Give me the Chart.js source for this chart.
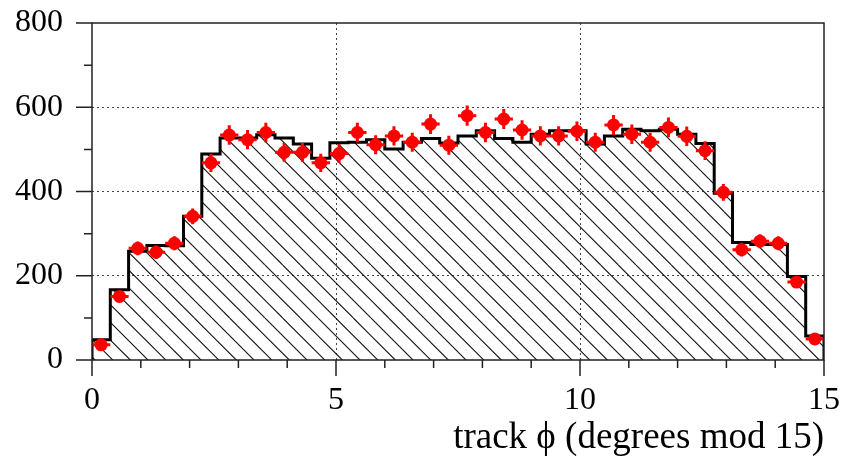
<!DOCTYPE html>
<html>
<head>
<meta charset="utf-8">
<script src="https://cdn.jsdelivr.net/npm/chart.js@4.4.1/dist/chart.umd.min.js"></script>
<style>
  html, body { margin: 0; padding: 0; background: #fff; }
  canvas { display: block; }
</style>
</head>
<body>
<canvas id="phiChart" width="842" height="460"></canvas>
<script>
// 40 bins from 0 to 15 degrees
const binWidth = 15 / 40;

// simulation histogram (hatched)
const mcCounts = [
  48, 167, 258, 272, 271, 341, 489, 527, 527, 535,
  527, 513, 479, 516, 517, 523, 501, 517, 526, 515,
  532, 544, 526, 517, 536, 544, 544, 513, 532, 548,
  544, 548, 536, 514, 396, 279, 274, 274, 198, 57
];

// data points (red)
const dataCounts = [
  36, 151, 265, 256, 277, 341, 468, 534, 523, 540,
  493, 493, 468, 490, 540, 511, 532, 517, 560, 510,
  580, 540, 572, 546, 532, 532, 543, 517, 558, 536,
  517, 552, 531, 497, 398, 262, 282, 277, 185, 50
];

const xMajor = [0, 5, 10, 15];
const xMinorStep = 1;
const yMajor = [0, 200, 400, 600, 800];
const yMinorStep = 100;
const xTitle = 'track ϕ (degrees mod 15)';

const serif = '"Liberation Serif", "DejaVu Serif", serif';

// hatch fill like "\\\\"
function makeHatch() {
  const size = 53, n = 3, step = size / n;
  const c = document.createElement('canvas');
  c.width = size;
  c.height = size;
  const g = c.getContext('2d');
  g.strokeStyle = '#111';
  g.lineWidth = 1.1;
  for (let k = -n; k <= n; k++) {
    const off = k * step;
    g.beginPath();
    g.moveTo(off, 0);
    g.lineTo(off + size, size);
    g.stroke();
  }
  return g.createPattern(c, 'repeat');
}

// step outline points built from the bins
const histPoints = [{ x: 0, y: 0 }];
mcCounts.forEach((v, i) => histPoints.push({ x: i * binWidth, y: v }));
histPoints.push({ x: 15, y: mcCounts[mcCounts.length - 1] });
histPoints.push({ x: 15, y: 0 });

const dataPoints = dataCounts.map((v, i) => ({ x: (i + 0.5) * binWidth, y: v }));

const gridColor = (vals) => (ctx) =>
  (ctx.tick && vals.includes(ctx.tick.value)) ? '#444' : 'rgba(0,0,0,0)';

const errorBars = {
  id: 'errorBars',
  beforeDatasetDraw(chart, args) {
    if (args.index !== 0) return;
    const { ctx, scales: { x, y } } = chart;
    ctx.save();
    ctx.strokeStyle = '#ff0000';
    ctx.lineWidth = 3;
    dataPoints.forEach(p => {
      const err = Math.sqrt(p.y);
      const px = x.getPixelForValue(p.x);
      const py = y.getPixelForValue(p.y);
      ctx.beginPath();
      ctx.moveTo(px, y.getPixelForValue(p.y - err));
      ctx.lineTo(px, y.getPixelForValue(p.y + err));
      ctx.moveTo(x.getPixelForValue(p.x - binWidth / 2), py);
      ctx.lineTo(x.getPixelForValue(p.x + binWidth / 2), py);
      ctx.stroke();
    });
    ctx.restore();
  }
};

const frameTicks = {
  id: 'frameTicks',
  afterDraw(chart) {
    const { ctx, chartArea: a, scales: { x, y } } = chart;
    ctx.save();
    ctx.strokeStyle = '#222';
    ctx.lineWidth = 1.5;
    ctx.strokeRect(a.left, a.top, a.right - a.left, a.bottom - a.top);
    ctx.beginPath();
    for (let v = 0; v <= 15; v += xMinorStep) {
      const px = x.getPixelForValue(v);
      const len = xMajor.includes(v) ? 16 : 8;
      ctx.moveTo(px, a.bottom);
      ctx.lineTo(px, a.bottom + len);
    }
    for (let v = 0; v <= 800; v += yMinorStep) {
      const py = y.getPixelForValue(v);
      const len = yMajor.includes(v) ? 16 : 8;
      ctx.moveTo(a.left, py);
      ctx.lineTo(a.left - len, py);
    }
    ctx.stroke();
    ctx.restore();
  }
};

new Chart(document.getElementById('phiChart'), {
  type: 'scatter',
  data: {
    datasets: [
      {
        label: 'data',
        data: dataPoints,
        pointRadius: 6.5,
        pointBackgroundColor: '#ff0000',
        pointBorderColor: '#ff0000',
        pointBorderWidth: 0,
        showLine: false
      },
      {
        label: 'simulation',
        type: 'line',
        data: histPoints,
        stepped: 'before',
        borderColor: '#000',
        borderWidth: 3,
        pointRadius: 0,
        fill: 'origin',
        backgroundColor: makeHatch()
      }
    ]
  },
  options: {
    responsive: false,
    devicePixelRatio: 1,
    animation: false,
    layout: { padding: { top: 23, right: 18, left: 0, bottom: 0 } },
    plugins: {
      legend: { display: false },
      tooltip: { enabled: false }
    },
    scales: {
      x: {
        type: 'linear',
        min: 0,
        max: 15,
        afterFit: (s) => { s.height = 100; s.paddingLeft = 0; s.paddingRight = 0; },
        afterBuildTicks: (s) => { s.ticks = xMajor.map(v => ({ value: v })); },
        ticks: {
          color: '#000',
          font: { family: serif, size: 32 },
          padding: 5,
          maxRotation: 0
        },
        grid: {
          color: gridColor([5, 10]),
          lineWidth: 1,
          drawTicks: true,
          tickLength: 16,
          tickColor: 'rgba(0,0,0,0)'
        },
        border: { display: false, dash: [2, 3] },
        title: {
          display: true,
          text: xTitle,
          align: 'end',
          color: '#000',
          font: { family: serif, size: 37 },
          padding: { top: 0, bottom: 0 }
        }
      },
      y: {
        type: 'linear',
        min: 0,
        max: 800,
        afterFit: (s) => { s.width = 92; s.paddingTop = 0; s.paddingBottom = 0; },
        afterBuildTicks: (s) => { s.ticks = yMajor.map(v => ({ value: v })); },
        ticks: {
          color: '#000',
          font: { family: serif, size: 32 },
          padding: 13
        },
        grid: {
          color: gridColor([200, 400, 600]),
          lineWidth: 1,
          drawTicks: true,
          tickLength: 16,
          tickColor: 'rgba(0,0,0,0)'
        },
        border: { display: false, dash: [2, 3] }
      }
    }
  },
  plugins: [errorBars, frameTicks]
});
</script>
</body>
</html>
